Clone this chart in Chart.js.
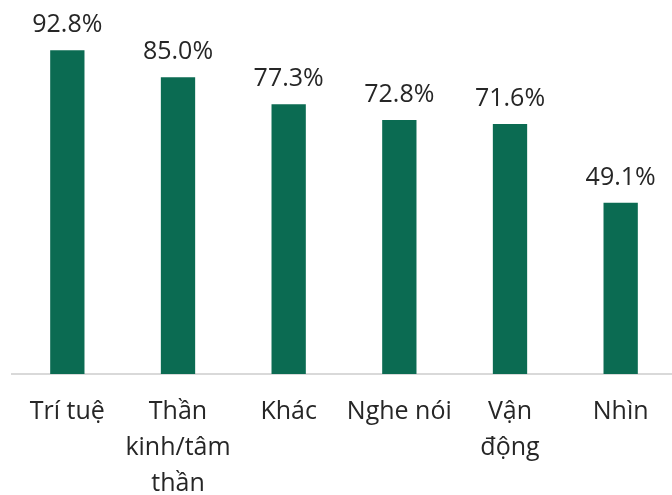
<!DOCTYPE html>
<html>
<head>
<meta charset="utf-8">
<script src="https://cdn.jsdelivr.net/npm/chart.js@4"></script>
<style>
  html, body { margin: 0; padding: 0; background: #fff; overflow: hidden; }
  #wrap { width: 680px; height: 495px; }
</style>
</head>
<body>
<div id="wrap"><canvas id="chart" width="680" height="495"></canvas></div>
<script>
const categories = [
  'Trí tuệ',
  ['Thần', 'kinh/tâm', 'thần'],
  'Khác',
  'Nghe nói',
  ['Vận', 'động'],
  'Nhìn'
];
const values = [92.8, 85.0, 77.3, 72.8, 71.6, 49.1];

const barColor = '#0b6b52';
const textColor = '#262626';
const fontFamily = '"Open Sans", "DejaVu Sans", sans-serif';

// draw the percentage above each bar
const valueLabels = {
  id: 'valueLabels',
  afterDatasetsDraw(chart) {
    const ctx = chart.ctx;
    const meta = chart.getDatasetMeta(0);
    ctx.save();
    ctx.font = '25px ' + fontFamily;
    ctx.fillStyle = textColor;
    ctx.textAlign = 'center';
    ctx.textBaseline = 'alphabetic';
    meta.data.forEach(function (bar, i) {
      ctx.fillText(values[i].toFixed(1) + '%', bar.x, bar.y - 18);
    });
    ctx.restore();
  }
};

new Chart(document.getElementById('chart').getContext('2d'), {
  type: 'bar',
  data: {
    labels: categories,
    datasets: [{
      data: values,
      backgroundColor: barColor,
      borderWidth: 0,
      barPercentage: 0.31,
      categoryPercentage: 1
    }]
  },
  options: {
    responsive: false,
    animation: false,
    layout: { padding: { left: 12, right: 4, top: 25, bottom: 0 } },
    plugins: {
      legend: { display: false },
      tooltip: { enabled: false }
    },
    scales: {
      x: {
        grid: { display: false, drawTicks: false },
        border: { display: true, color: '#d9d9d9', width: 2 },
        ticks: {
          color: textColor,
          font: { family: fontFamily, size: 25, lineHeight: 1.44 },
          padding: 20,
          maxRotation: 0,
          minRotation: 0,
          autoSkip: false
        },
        afterFit(scale) { scale.height = 121; }
      },
      y: {
        display: false,
        min: 0,
        max: 100
      }
    }
  },
  plugins: [valueLabels]
});
</script>
</body>
</html>
